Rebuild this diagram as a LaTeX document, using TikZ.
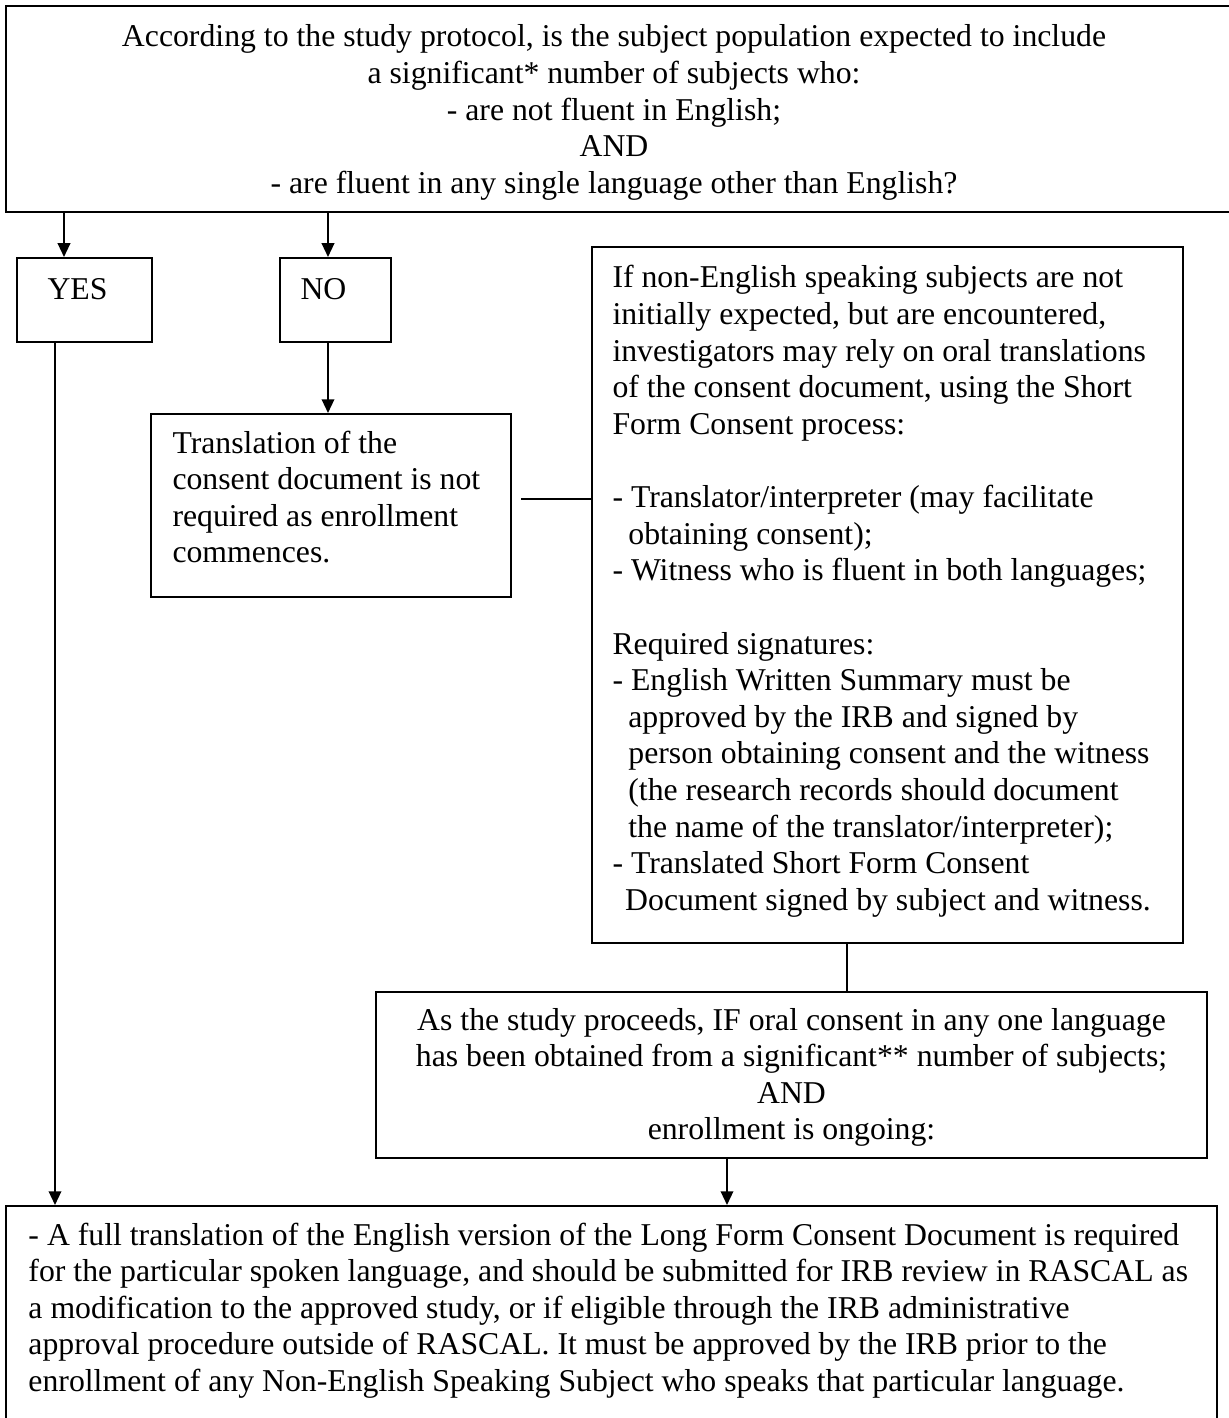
\documentclass[tikz,border=0pt]{standalone}
\usepackage{fontspec}
\setmainfont{Liberation Serif}
\usetikzlibrary{arrows.meta,fit}
\begin{document}
\begin{tikzpicture}[x=0.4pt,y=-0.4pt,
  box/.style={draw, line width=0.8pt, inner sep=0pt, rectangle},
  txt/.style={inner sep=0pt, font=\fontsize{12.7}{14.64}\selectfont},
  arr/.style={line width=0.8pt, -{Triangle[length=5.5pt,width=5pt]}},
  ln/.style={line width=0.8pt}]
\useasboundingbox (0,0) rectangle (1228,1418);

% boxes
\node[box, fit={(6,6) (1240,212)}] (top) {};
\node[box, fit={(17,258) (152,342)}] (yes) {};
\node[box, fit={(280,258) (391,342)}] (no) {};
\node[box, fit={(151,414) (511,597)}] (trans) {};
\node[box, fit={(592,247) (1183,943)}] (big) {};
\node[box, fit={(376,992) (1207,1158)}] (asb) {};
\node[box, fit={(6,1206) (1217,1440)}] (bot) {};

% texts (anchored at the baseline of their last line)
\node[txt, align=center, anchor=base] (toptxt) at (614,193.4) {According to the study protocol, is the subject population expected to include\\
a significant* number of subjects who:\\
- are not fluent in English;\\
AND\\
- are fluent in any single language other than English?};
\node[txt, anchor=base west] (yestxt) at (47,300) {YES};
\node[txt, anchor=base west] (notxt) at (300,300) {NO};
\node[txt, align=left, anchor=base west] (transtxt) at (172,562.8) {Translation of the\\
consent document is not\\
required as enrollment\\
commences.};
\node[txt, align=left, anchor=base west] (bigtxt) at (612,910.2) {If non-English speaking subjects are not\\
initially expected, but are encountered,\\
investigators may rely on oral translations\\
of the consent document, using the Short\\
Form Consent process:\\
\strut\\
- Translator/interpreter (may facilitate\\
\hspace*{0.5em}obtaining consent);\\
- Witness who is fluent in both languages;\\
\strut\\
Required signatures:\\
- English Written Summary must be\\
\hspace*{0.5em}approved by the IRB and signed by\\
\hspace*{0.5em}person obtaining consent and the witness\\
\hspace*{0.5em}(the research records should document\\
\hspace*{0.5em}the name of the translator/interpreter);\\
- Translated Short Form Consent\\
\hspace*{0.4em}Document signed by subject and witness.};
\node[txt, align=center, anchor=base] (asbtxt) at (791.5,1139.8) {As the study proceeds, IF oral consent in any one language\\
has been obtained from a significant** number of subjects;\\
AND\\
enrollment is ongoing:};
\node[txt, align=left, anchor=base west] (bottxt) at (28,1391.4) {- A full translation of the English version of the Long Form Consent Document is required\\
for the particular spoken language, and should be submitted for IRB review in RASCAL as\\
a modification to the approved study, or if eligible through the IRB administrative\\
approval procedure outside of RASCAL. It must be approved by the IRB prior to the\\
enrollment of any Non-English Speaking Subject who speaks that particular language.};

% connector x positions
\coordinate (xyes) at (64,0);
\coordinate (xno) at (328,0);
\coordinate (xyes2) at (55,0);
\coordinate (xbig) at (847,0);
\coordinate (xasb) at (727,0);
\coordinate (linkstart) at (521,499);

\draw[arr] (top.south -| xyes) -- (yes.north -| xyes);
\draw[arr] (top.south -| xno) -- (no.north -| xno);
\draw[arr] (no.south -| xno) -- (trans.north -| xno);
\draw[ln] (linkstart) -- (big.west |- linkstart);
\draw[ln] (big.south -| xbig) -- (asb.north -| xbig);
\draw[arr] (asb.south -| xasb) -- (bot.north -| xasb);
\draw[arr] (yes.south -| xyes2) -- (bot.north -| xyes2);
\end{tikzpicture}
\end{document}
